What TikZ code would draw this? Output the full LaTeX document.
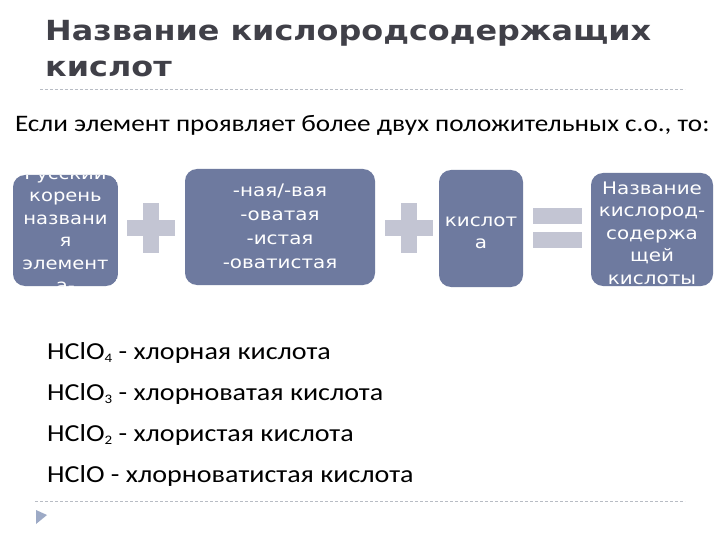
\documentclass[tikz,border=0pt]{standalone}
\usepackage{fontspec}
\setmainfont[FakeStretch=1.15]{Carlito}
\newfontfamily\djv[FakeStretch=1.15]{DejaVu Sans}
\newcommand\mysubidx[1]{\raisebox{-3.5pt}{\fontsize{13}{13}\selectfont #1}}
\definecolor{boxc}{HTML}{6E7A9F}
\definecolor{opc}{HTML}{C3C5D3}
\definecolor{titlec}{HTML}{404048}
\definecolor{dashc}{HTML}{B8BCC4}
\definecolor{tric}{HTML}{9DAAC6}
\tikzset{
  rbox/.style={fill=boxc, rounded corners=12pt},
  btext/.style={text=white, align=center, inner sep=0pt, anchor=north},
  opbar/.style={fill=opc, draw=none},
  sep/.style={dashc, dashed, dash pattern=on 3pt off 2pt, line width=0.8pt},
  line/.style={anchor=base west, inner sep=0pt, font=\fontsize{24.4}{24}\selectfont},
  ttl/.style={anchor=base west, inner sep=0pt, text=titlec, font=\djv\bfseries\fontsize{27.7}{33}\selectfont}
}
\begin{document}
\begin{tikzpicture}[x=1pt,y=-1pt]
\useasboundingbox[fill=white] (0,0) rectangle (720,540);
% title
\node[ttl] (t1) at (45,41) {Название кислородсодержащих};
\node[ttl] (t2) at (45,77) {кислот};
\coordinate (d1a) at (40,89); \coordinate (d1b) at (685,89);
\draw[sep] (d1a) -- (d1b);
% subtitle
\node[anchor=base west, inner sep=0pt, font=\fontsize{23.65}{24}\selectfont] (sub) at (15,132) {Если элемент проявляет более двух положительных с.о., то:};
% boxes
\begin{scope}
\clip[rounded corners=12pt] (13,175) rectangle (118,286);
\fill[rbox] (13,175) rectangle (118,286);
\node[btext, font=\djv\fontsize{17}{22.5}\selectfont] (b1) at (65.5,166) {Русский\\корень\\названи\\я\\элемент\\а-};
\end{scope}
\fill[rbox] (185,169) rectangle (375,285);
\node[btext, font=\djv\fontsize{17.3}{24}\selectfont] (b2) at (280,184) {-ная/-вая\\-оватая\\-истая\\-оватистая};
\fill[rbox] (439,170) rectangle (523,287);
\node[btext, font=\djv\fontsize{17.3}{22}\selectfont] (b3) at (481,216.5) {кислот\\а};
\fill[rbox] (591,173) rectangle (713,286);
\node[btext, font=\djv\fontsize{17.3}{22.5}\selectfont] (b4) at (652,181.4) {Название\\кислород-\\содержа\\щей\\кислоты};
% plus 1
\fill[opbar] (127,220) rectangle (175,236);
\fill[opbar] (143,203) rectangle (159,253);
% plus 2
\fill[opbar] (385,220) rectangle (433,236);
\fill[opbar] (401,203) rectangle (417,253);
% equals
\fill[opbar] (533,208) rectangle (582,224);
\fill[opbar] (533,232) rectangle (582,248);
% list
\node[line] (l1) at (47,359) {HClO\mysubidx{4} - хлорная кислота};
\node[line] (l2) at (47,400) {HClO\mysubidx{3} - хлорноватая кислота};
\node[line] (l3) at (47,441) {HClO\mysubidx{2} - хлористая кислота};
\node[line] (l4) at (47,482) {HClO - хлорноватистая кислота};
\coordinate (d2a) at (35,501); \coordinate (d2b) at (685,501);
\draw[sep] (d2a) -- (d2b);
\fill[tric] (36,510) -- (47,515) -- (36,524) -- cycle;
\end{tikzpicture}
\end{document}
